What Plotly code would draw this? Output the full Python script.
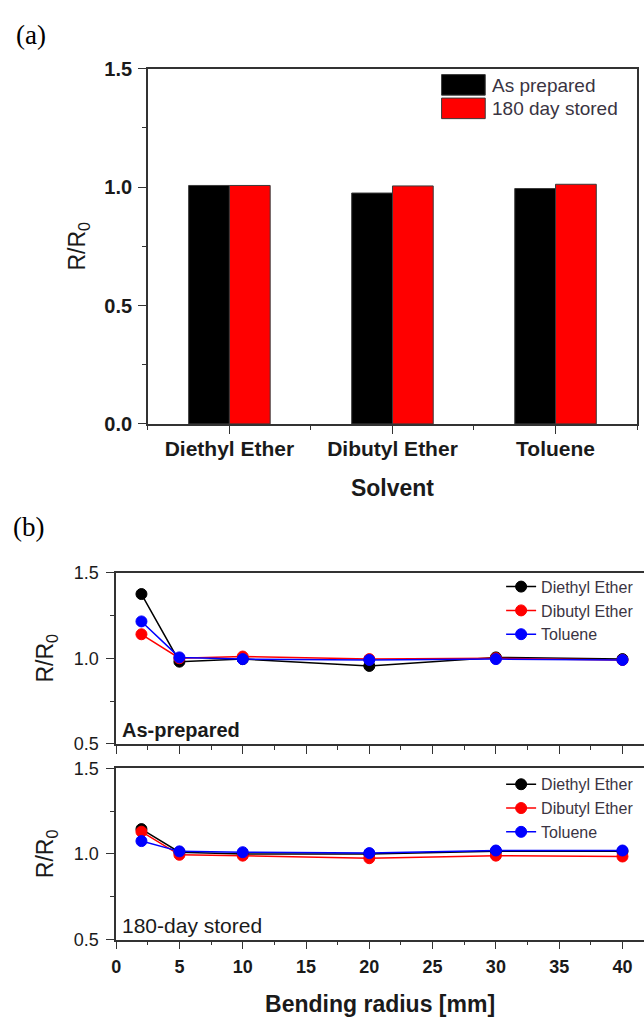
import plotly.graph_objects as go

# ---- data ----
solvents = ["Diethyl Ether", "Dibutyl Ether", "Toluene"]
bar_series = ["As prepared", "180 day stored"]
as_prepared = [1.007, 0.975, 0.994]
stored_180 = [1.007, 1.005, 1.012]

radius = [2, 5, 10, 20, 30, 40]
line_series = ["Diethyl Ether", "Dibutyl Ether", "Toluene"]
b1_diethyl = [1.375, 0.98, 0.995, 0.955, 1.005, 0.995]
b1_dibutyl = [1.14, 1.0, 1.01, 0.995, 1.0, 0.99]
b1_toluene = [1.215, 1.005, 0.995, 0.99, 0.995, 0.99]

b2_diethyl = [1.145, 1.01, 1.0, 1.0, 1.015, 1.015]
b2_dibutyl = [1.13, 0.995, 0.99, 0.975, 0.99, 0.985]
b2_toluene = [1.075, 1.015, 1.01, 1.005, 1.02, 1.02]

W, H = 644, 1021
FONT = "Liberation Sans, Arial, sans-serif"
SERIF = "Liberation Serif, Times New Roman, serif"
AX = "#333333"
TXT = "#1a1a1a"
LEG = "#3a3442"

def px_x(p):
    return p / W

def px_y(p):
    return 1 - p / H

fig = go.Figure()

# ---- panel (a) bars ----
xpos = list(range(len(solvents)))
bar_colors = ["black", "#ff0000"]
for name, vals, col in zip(bar_series, [as_prepared, stored_180], bar_colors):
    fig.add_trace(go.Bar(x=xpos, y=vals, name=name, showlegend=False,
                         marker=dict(color=col, line=dict(color="#3a3a3a", width=1)),
                         xaxis="x", yaxis="y"))

# ---- panel (b) lines ----
line_colors = ["black", "#ff0000", "#0000ff"]
for (name, col), vals in zip(zip(line_series, line_colors), [b1_diethyl, b1_dibutyl, b1_toluene]):
    fig.add_trace(go.Scatter(x=radius, y=vals, name=name, mode="lines+markers",
                             line=dict(color=col, width=1.5),
                             marker=dict(symbol="circle", size=11, color=col,
                                         line=dict(color=col, width=1)),
                             xaxis="x2", yaxis="y2", legend="legend2"))
for (name, col), vals in zip(zip(line_series, line_colors), [b2_diethyl, b2_dibutyl, b2_toluene]):
    fig.add_trace(go.Scatter(x=radius, y=vals, name=name, mode="lines+markers",
                             line=dict(color=col, width=1.5),
                             marker=dict(symbol="circle", size=11, color=col,
                                         line=dict(color=col, width=1)),
                             xaxis="x3", yaxis="y3", legend="legend3"))

axis_common = dict(showline=True, linecolor=AX, linewidth=1.5, ticks="outside",
                   ticklen=8, tickwidth=1.3, tickcolor=AX, showgrid=False,
                   zeroline=False)
minor_common = dict(ticks="outside", ticklen=4, tickcolor=AX, tickwidth=1.3)

legend_common = dict(bgcolor="rgba(0,0,0,0)", font=dict(family=FONT, size=16, color=LEG),
                     xanchor="left", yanchor="top", tracegroupgap=0, itemwidth=30)

fig.update_layout(
    width=W, height=H,
    margin=dict(l=0, r=0, t=0, b=0),
    paper_bgcolor="white", plot_bgcolor="white",
    barmode="group", bargap=0.5, bargroupgap=0,
    font=dict(family=FONT, color=TXT),
    xaxis=dict(domain=[px_x(144), px_x(637)], anchor="y", range=[-0.5, 2.5],
               tickmode="array", tickvals=xpos, ticktext=solvents,
               minor=dict(tickmode="linear", tick0=0.5, dtick=1, **minor_common),
               mirror=True,
               tickfont=dict(family=FONT, size=21, color=TXT, weight="bold"),
               ticklabelstandoff=-3,
               title=dict(text="Solvent", font=dict(family=FONT, size=23, color=TXT, weight="bold"),
                          standoff=21),
               **axis_common),
    yaxis=dict(domain=[px_y(422), px_y(59)], anchor="x", range=[0, 1.5],
               tickmode="linear", tick0=0, dtick=0.5, tickformat=".1f",
               minor=dict(dtick=0.25, **minor_common),
               mirror=True,
               tickfont=dict(family=FONT, size=20, color=TXT, weight="bold"),
               ticklabelstandoff=2,
               title=dict(text="R/R<sub>0</sub>", font=dict(family=FONT, size=23, color=TXT),
                          standoff=12),
               **axis_common),
    xaxis2=dict(domain=[px_x(112), 1.0], anchor="y2", range=[0, 41.7],
                tickmode="linear", tick0=0, dtick=5, showticklabels=False,
                minor=dict(dtick=2.5, **minor_common),
                mirror=True, **axis_common),
    yaxis2=dict(domain=[px_y(749), px_y(574)], anchor="x2", range=[0.5, 1.5],
                tickmode="linear", tick0=0.5, dtick=0.5, tickformat=".1f",
                minor=dict(dtick=0.25, **minor_common),
                tickfont=dict(family=FONT, size=18, color=TXT),
                ticklabelstandoff=4,
                title=dict(text="R/R<sub>0</sub>", font=dict(family=FONT, size=23, color=TXT),
                           standoff=14),
                **axis_common),
    xaxis3=dict(domain=[px_x(112), 1.0], anchor="y3", range=[0, 41.7],
                tickmode="linear", tick0=0, dtick=5,
                minor=dict(dtick=2.5, **minor_common),
                mirror=True,
                tickfont=dict(family=FONT, size=18, color=TXT, weight="bold"),
                ticklabelstandoff=2,
                title=dict(text="Bending radius [mm]",
                           font=dict(family=FONT, size=23, color=TXT, weight="bold"), standoff=20),
                **axis_common),
    yaxis3=dict(domain=[px_y(949), px_y(774)], anchor="x3", range=[0.5, 1.5],
                tickmode="linear", tick0=0.5, dtick=0.5, tickformat=".1f",
                minor=dict(dtick=0.25, **minor_common),
                tickfont=dict(family=FONT, size=18, color=TXT),
                ticklabelstandoff=4,
                title=dict(text="R/R<sub>0</sub>", font=dict(family=FONT, size=23, color=TXT),
                           standoff=14),
                **axis_common),
    legend2=dict(x=px_x(500), y=px_y(571), **legend_common),
    legend3=dict(x=px_x(500), y=px_y(773), **legend_common),
)

# ---- legend for the bar panel (swatches + labels) ----
shapes = []
annotations = []
sw_top = [65, 89]
for i, (name, col) in enumerate(zip(bar_series, bar_colors)):
    y0 = sw_top[i]
    shapes.append(dict(type="rect", xref="paper", yref="paper",
                       x0=px_x(440), x1=px_x(484), y0=px_y(y0 + 21), y1=px_y(y0),
                       fillcolor=col, line=dict(color="#3a3a3a", width=1)))
    annotations.append(dict(text=name, x=px_x(489), y=px_y(y0 + 11), xanchor="left",
                            yanchor="middle",
                            font=dict(family=FONT, size=19, color=LEG)))

annotations += [
    dict(text="(a)", x=px_x(9), y=px_y(25), xanchor="left", yanchor="middle",
         font=dict(family=SERIF, size=27, color="black")),
    dict(text="(b)", x=px_x(6), y=px_y(527), xanchor="left", yanchor="middle",
         font=dict(family=SERIF, size=27, color="black")),
    dict(text="<b>As-prepared</b>", x=px_x(116), y=px_y(735), xanchor="left", yanchor="middle",
         font=dict(family=FONT, size=20, color=TXT)),
    dict(text="180-day stored", x=px_x(116), y=px_y(935), xanchor="left", yanchor="middle",
         font=dict(family=FONT, size=21, color=TXT)),
]
for a in annotations:
    a.update(xref="paper", yref="paper", showarrow=False)
fig.update_layout(annotations=annotations, shapes=shapes)

fig.write_html(
    "out.html",
    config={"displayModeBar": False},
    post_script="document.body.style.margin='0';document.body.style.overflow='hidden';",
)
